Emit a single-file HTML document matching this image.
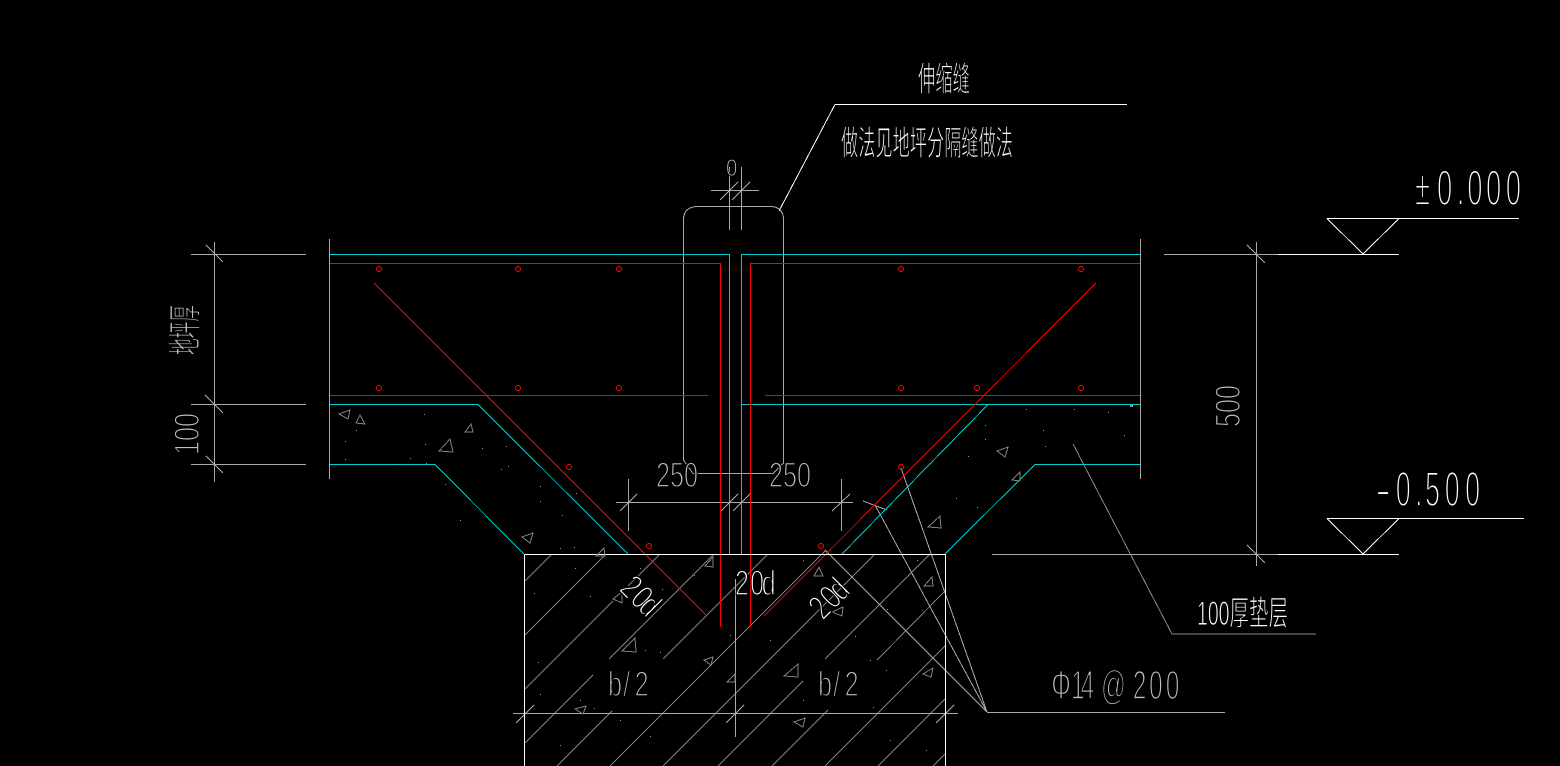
<!DOCTYPE html>
<html><head><meta charset="utf-8"><title>伸缩缝</title>
<style>
html,body{margin:0;padding:0;background:#000;width:1560px;height:766px;overflow:hidden}
svg{display:block}
text{font-family:"Liberation Sans","Noto Sans CJK SC",sans-serif;font-weight:400;stroke:#000;stroke-width:.042em}
text.g{fill:#c0c0c0}
text.w{fill:#fff}
text.c{stroke-width:.03em}
</style></head><body>
<svg width="1560" height="766" viewBox="0 0 1560 766" xmlns="http://www.w3.org/2000/svg">
<rect width="1560" height="766" fill="#000"/>
<g shape-rendering="crispEdges" fill="none">
<!-- hatch -->
<path stroke="#808080" d="M525 581L551.700 554.300M525 635L605 555M525 689L613 601M628 586L659 555M525 743L593 675M609 659L713 555M557 766L612 711M663 659L767 555M610 766L825 551M663 766L875 554M718 766L803 681M825 659L930 554M772 766L828 710M877 660L946 590M825 766L946 645M878 766L946 698M933 766L946 753"/>
<!-- gray construction -->
<path stroke="#aaa" d="M693 473.500L683.500 460V220Q683.500 206.500 698 206.500H770Q783.500 206.500 783.500 220V463L773 473.500H693M729.500 167V230M741.500 167V230M711 190.500H759M720 200L738 182M732 200L750 182
M214.500 242V482M191 254.500H306M191 404.500H306M191 464.500H306M206 245L223 262M205 395L223 413M206 456L223 473
M329.500 239V479M1140.500 239V479
M1164 254.500H1278M1256.500 242V566M992 554.500H1278M1247 245L1265 263M1247 545L1265 563
M616 502.500H853M628.500 479V531M841.500 479V531M620 511L637 494M721 511L738 494M733 511L750 494M832 511L850 494
M513 713.500H958M735.500 579V737M516 723L534 705M726 723L744 705M936 723L954 705"/>
<path stroke="#8a8a8a" d="M1073 444L1172 634H1316"/>
<path stroke="#aaa" d="M987 712.500H1225M901 468L987 712M875 505L987 712M825 550L987 712M863 501L887 510"/>
<!-- cyan -->
<path stroke="#00cfcf" d="M330 254.500H729.500V554M741.500 554V254.500H1140M330 404.500H478L628 554M330 464.500H435L524 554M742 404.500H1140M988 404.500L842 554M1140 464.500H1035L945 554"/>
<!-- red -->
<path stroke="#f00" d="M330 263.500H720.500V627M750.500 627V263.500H1140M330 395.500H708M765 395.500H1140M374 283L706 615M1096 283L764 616"/>
<g stroke="#f00">
<circle cx="379" cy="269" r="2.500"/><circle cx="518" cy="269" r="2.500"/><circle cx="619" cy="269" r="2.500"/>
<circle cx="379" cy="388" r="2.500"/><circle cx="518" cy="388" r="2.500"/><circle cx="619" cy="388" r="2.500"/>
<circle cx="569" cy="467" r="2.500"/><circle cx="649" cy="546" r="2.500"/>
<circle cx="901" cy="269" r="2.500"/><circle cx="1081" cy="269" r="2.500"/>
<circle cx="901" cy="388" r="2.500"/><circle cx="977" cy="388" r="2.500"/><circle cx="1081" cy="388" r="2.500"/>
<circle cx="901" cy="467" r="2.500"/><circle cx="821" cy="546" r="2.500"/>
</g>
<!-- white -->
<path stroke="#fff" d="M524.500 766V554.500H945.500V766M779 211L835 104.500H1127M1278 254.500H1399M1327 218.500H1519M1327 218.500L1363 254M1399 218.500L1363 254M1278 554.500H1399M1327 518.500H1524M1327 518.500L1363 554M1399 518.500L1363 554"/>
<!-- aggregate triangles -->
<path stroke="#808080" d="M339 414L350 410L348 419ZM360 415L356 423L365 424ZM471 424L465 432L473 432ZM450 439L439 451L453 452ZM522 537L533 533L530 543ZM604 548L596 556L605 556ZM713 557L705 566L713 567ZM819 567L814 576L823 576ZM940 516L928 527L941 528ZM932 577L924 586L933 586ZM843 607L832 612L842 616ZM635 638L622 651L636 652ZM713 657L704 660L711 665ZM735 674L727 682L735 682ZM798 664L784 676L798 677ZM586 706L575 709L583 714ZM805 718L794 722L803 727ZM933 668L923 674L931 677ZM622 592L613 599L622 603ZM1008 447L997 451L1005 457ZM1020 472L1012 480L1020 481Z"/>
</g>
<!-- dots -->
<g fill="#999" shape-rendering="crispEdges">
<rect x="345" y="441" width="1" height="1"/><rect x="345" y="459" width="1" height="1"/><rect x="356" y="430" width="1" height="1"/><rect x="393" y="464" width="1" height="1"/><rect x="424" y="414" width="1" height="1"/><rect x="425" y="444" width="1" height="1"/><rect x="410" y="458" width="1" height="1"/><rect x="426" y="463" width="1" height="1"/><rect x="445" y="484" width="1" height="1"/><rect x="482" y="448" width="1" height="1"/><rect x="506" y="446" width="1" height="1"/><rect x="501" y="469" width="1" height="1"/><rect x="508" y="466" width="1" height="1"/><rect x="460" y="520" width="1" height="1"/><rect x="540" y="486" width="1" height="1"/><rect x="562" y="515" width="1" height="1"/><rect x="540" y="501" width="1" height="1"/><rect x="576" y="493" width="1" height="1"/><rect x="560" y="548" width="1" height="1"/><rect x="574" y="547" width="1" height="1"/>
<rect x="1026" y="409" width="1" height="1"/><rect x="1074" y="409" width="1" height="1"/><rect x="1108" y="412" width="1" height="1"/><rect x="985" y="425" width="1" height="1"/><rect x="1043" y="430" width="1" height="1"/><rect x="1124" y="435" width="1" height="1"/><rect x="985" y="439" width="1" height="1"/><rect x="1045" y="446" width="1" height="1"/><rect x="968" y="456" width="1" height="1"/><rect x="956" y="498" width="1" height="1"/><rect x="977" y="507" width="1" height="1"/><rect x="1130" y="405" width="3" height="2"/>
<rect x="534" y="593" width="1" height="1"/><rect x="575" y="568" width="1" height="1"/><rect x="590" y="596" width="1" height="1"/><rect x="538" y="662" width="1" height="1"/><rect x="640" y="568" width="1" height="1"/><rect x="662" y="589" width="1" height="1"/><rect x="645" y="650" width="1" height="1"/><rect x="660" y="652" width="1" height="1"/><rect x="694" y="575" width="1" height="1"/><rect x="730" y="635" width="1" height="1"/><rect x="540" y="694" width="1" height="1"/><rect x="580" y="700" width="1" height="1"/><rect x="594" y="708" width="1" height="1"/><rect x="620" y="720" width="1" height="1"/><rect x="650" y="736" width="1" height="1"/><rect x="770" y="640" width="1" height="1"/><rect x="803" y="560" width="1" height="1"/><rect x="803" y="700" width="1" height="1"/><rect x="855" y="636" width="1" height="1"/><rect x="870" y="660" width="1" height="1"/><rect x="873" y="707" width="1" height="1"/><rect x="917" y="560" width="1" height="1"/><rect x="887" y="609" width="1" height="1"/><rect x="922" y="610" width="1" height="1"/><rect x="886" y="670" width="1" height="1"/><rect x="890" y="740" width="1" height="1"/><rect x="926" y="750" width="1" height="1"/><rect x="560" y="745" width="1" height="1"/>
</g>
<!-- labels -->
<text class="w c" x="918" y="91" font-size="34" textLength="52" lengthAdjust="spacingAndGlyphs">伸缩缝</text>
<text class="w c" x="841" y="155" font-size="34" textLength="172" lengthAdjust="spacingAndGlyphs">做法见地坪分隔缝做法</text>
<text class="g" transform="translate(726 176) scale(.85 1)" font-size="24">0</text>
<text class="g c" transform="translate(197 355) rotate(-90)" font-size="34" textLength="50" lengthAdjust="spacingAndGlyphs">地坪厚</text>
<text class="g" transform="translate(199 455) rotate(-90) scale(.72 1)" font-size="35">100</text>
<text class="g" transform="translate(656 487) scale(.72 1)" font-size="35">250</text>
<text class="g" transform="translate(769 487) scale(.72 1)" font-size="35">250</text>
<text class="w" transform="translate(735 595) scale(.72 1)" font-size="35" x="0 21 37">20d</text>
<text class="w" transform="translate(618 590) rotate(45) scale(.72 1)" font-size="35" x="0 21 37">20d</text>
<text class="w" transform="translate(823 621) rotate(-45) scale(.72 1)" font-size="35" x="0 21 37">20d</text>
<text class="g" transform="translate(608 696) scale(.72 1)" font-size="35" x="0 21 37">b/2</text>
<text class="g" transform="translate(818 696) scale(.72 1)" font-size="35" x="0 21 37">b/2</text>
<text class="g" transform="translate(1240 427) rotate(-90) scale(.72 1)" font-size="35">500</text>
<text class="w" transform="translate(1415 205) scale(.55 1)" font-size="50" x="0 40 76 95 129 165">±0.000</text>
<text class="w" x="1375" y="506" font-size="49">-</text>
<text class="w" transform="translate(1376 506) scale(.55 1)" font-size="49" x="36 71 89 125 162">0.500</text>
<text class="w c" x="1197" y="625" font-size="34" textLength="91" lengthAdjust="spacingAndGlyphs">100厚垫层</text>
<text class="g" transform="translate(1050 699) scale(.6 1)" font-size="41" x="2 35 51 85 138 165 193">Φ14@200</text>
</svg>
</body></html>
